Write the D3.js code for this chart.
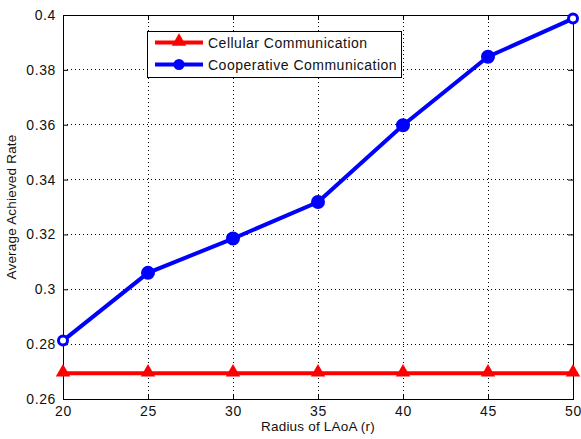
<!DOCTYPE html>
<html>
<head>
<meta charset="utf-8">
<script src="https://cdn.jsdelivr.net/npm/d3@7"></script>
<style>
  body { margin: 0; background: #fff; }
  svg { display: block; font-family: Arial, "Liberation Sans", sans-serif; }
</style>
</head>
<body>
<svg id="chart" width="581" height="439"></svg>
<script>
'use strict';

const radius = [20, 25, 30, 35, 40, 45, 50];
const cellular = [0.2694, 0.2694, 0.2694, 0.2694, 0.2694, 0.2694, 0.2694];
const cooperative = [0.2813, 0.3060, 0.3185, 0.3318, 0.3598, 0.3848, 0.3987];
const yTicks = [0.26, 0.28, 0.3, 0.32, 0.34, 0.36, 0.38, 0.4];
const seriesNames = ['Cellular Communication', 'Cooperative Communication'];

const margin = { left: 63, right: 8, top: 15, bottom: 40 };
const width = 581, height = 439;

const svg = d3.select('#chart');

const x = d3.scaleLinear()
  .domain([20, 50])
  .range([margin.left, width - margin.right]);

const y = d3.scaleLinear()
  .domain([0.26, 0.4])
  .range([height - margin.bottom, margin.top]);

const fmt = d => d3.format('')(+d.toFixed(2));

// grid
const grid = svg.append('g').attr('class', 'grid');
grid.selectAll('.gx')
  .data(radius.slice(1, -1))
  .enter()
  .append('line')
  .attr('x1', d => x(d)).attr('x2', d => x(d))
  .attr('y1', y(0.26)).attr('y2', y(0.4));
grid.selectAll('.gy')
  .data(yTicks.slice(1, -1))
  .enter()
  .append('line')
  .attr('x1', x(20)).attr('x2', x(50))
  .attr('y1', d => y(d)).attr('y2', d => y(d));
grid.selectAll('line')
  .attr('stroke', '#000')
  .attr('stroke-width', 1)
  .attr('stroke-dasharray', '1,3')
  .attr('shape-rendering', 'crispEdges');

// axes with inward ticks (box style)
const axisStyle = g => {
  g.select('.domain').remove();
  g.selectAll('text').attr('font-size', 14).attr('letter-spacing', 0.6).attr('fill', '#111');
  g.selectAll('line').attr('stroke', '#000');
};

svg.append('g')
  .attr('transform', `translate(0,${y(0.26)})`)
  .call(d3.axisBottom(x).tickValues(radius).tickSizeInner(-5).tickSizeOuter(0).tickPadding(7))
  .call(axisStyle);
svg.append('g')
  .attr('transform', `translate(0,${y(0.4)})`)
  .call(d3.axisTop(x).tickValues(radius).tickSizeInner(-5).tickSizeOuter(0).tickFormat(''))
  .call(axisStyle);
svg.append('g')
  .attr('transform', `translate(${x(20)},0)`)
  .call(d3.axisLeft(y).tickValues(yTicks).tickSizeInner(-5).tickSizeOuter(0).tickPadding(7).tickFormat(fmt))
  .call(axisStyle);
svg.append('g')
  .attr('transform', `translate(${x(50)},0)`)
  .call(d3.axisRight(y).tickValues(yTicks).tickSizeInner(-5).tickSizeOuter(0).tickFormat(''))
  .call(axisStyle);

svg.append('rect')
  .attr('x', x(20)).attr('y', y(0.4))
  .attr('width', x(50) - x(20)).attr('height', y(0.26) - y(0.4))
  .attr('fill', 'none').attr('stroke', '#000').attr('stroke-width', 1)
  .attr('shape-rendering', 'crispEdges');

// axis labels
svg.append('text')
  .attr('x', (x(20) + x(50)) / 2).attr('y', 431)
  .attr('text-anchor', 'middle').attr('font-size', 13.5).attr('letter-spacing', 0.2)
  .attr('fill', '#111')
  .text('Radius of LAoA (r)');
svg.append('text')
  .attr('transform', `translate(16,${(y(0.26) + y(0.4)) / 2}) rotate(-90)`)
  .attr('text-anchor', 'middle').attr('font-size', 13.5).attr('letter-spacing', 0.2)
  .attr('fill', '#111')
  .text('Average Achieved Rate');

// series
const line = d3.line().x(d => x(d[0])).y(d => y(d[1]));
const tri = d3.symbol().type(d3.symbolTriangle).size(90);

const redData = radius.map((r, i) => [r, cellular[i]]);
const blueData = radius.map((r, i) => [r, cooperative[i]]);

svg.append('path').datum(redData).attr('d', line)
  .attr('fill', 'none').attr('stroke', '#ff0000').attr('stroke-width', 4);
svg.selectAll('.tri').data(redData).enter().append('path')
  .attr('d', tri)
  .attr('transform', d => `translate(${x(d[0])},${y(d[1]) - 1})`)
  .attr('fill', '#ff0000');

svg.append('path').datum(blueData).attr('d', line)
  .attr('fill', 'none').attr('stroke', '#0000ff').attr('stroke-width', 4);
svg.selectAll('.dot').data(blueData).enter().append('circle')
  .attr('cx', d => x(d[0])).attr('cy', d => y(d[1]))
  .attr('r', (d, i) => (i === 0 || i === radius.length - 1) ? 4.5 : 5.5)
  .attr('fill', (d, i) => (i === 0 || i === radius.length - 1) ? '#fff' : '#0000ff')
  .attr('stroke', '#0000ff').attr('stroke-width', 3);

// legend
const legend = svg.append('g').attr('transform', 'translate(147,31)');
legend.append('rect')
  .attr('width', 254).attr('height', 46)
  .attr('fill', '#fff').attr('stroke', '#000').attr('stroke-width', 1)
  .attr('shape-rendering', 'crispEdges');
const colors = ['#ff0000', '#0000ff'];
seriesNames.forEach((name, i) => {
  const yy = 11.5 + i * 22;
  legend.append('line')
    .attr('x1', 8).attr('x2', 56).attr('y1', yy).attr('y2', yy)
    .attr('stroke', colors[i]).attr('stroke-width', 4);
  if (i === 0) {
    legend.append('path').attr('d', tri)
      .attr('transform', `translate(32,${yy - 1})`).attr('fill', colors[i]);
  } else {
    legend.append('circle').attr('cx', 32).attr('cy', yy).attr('r', 5.5)
      .attr('fill', colors[i]);
  }
  legend.append('text')
    .attr('x', 61).attr('y', yy + 5)
    .attr('font-size', 14).attr('letter-spacing', 0.5)
    .attr('fill', '#111')
    .text(name);
});
</script>
</body>
</html>
